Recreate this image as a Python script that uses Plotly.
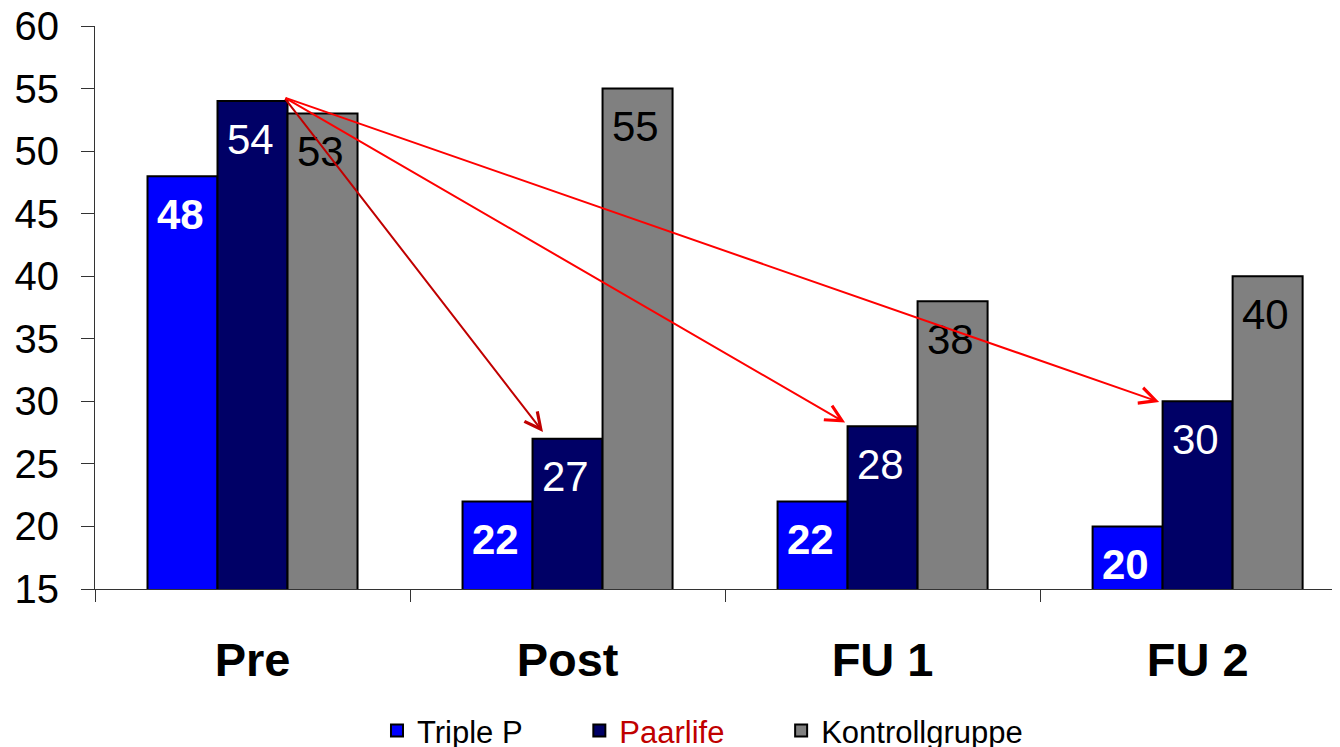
import plotly.graph_objects as go

categories = ["Pre", "Post", "FU 1", "FU 2"]
triple_p = [48, 22, 22, 20]
paarlife = [54, 27, 28, 30]
kontroll = [53, 55, 38, 40]

PAD = "&nbsp;" * 6
series_names = ["Triple P" + PAD,
                "<span style='color:#C00000'>Paarlife</span>" + PAD,
                "Kontrollgruppe"]
series_values = [triple_p, paarlife, kontroll]
series_colors = ["#0000FF", "#000066", "#808080"]
label_colors = ["white", "white", "black"]
label_bold = [True, False, False]

FONT = "Liberation Sans, Arial, sans-serif"

fig = go.Figure()
for name, vals, col in zip(series_names, series_values, series_colors):
    fig.add_trace(go.Bar(
        x=categories, y=vals, name=name,
        marker=dict(color=col, line=dict(color="black", width=2)),
    ))

annotations = []
offsets = [-70, 0, 70]
for vals, lc, bold, off in zip(series_values, label_colors, label_bold, offsets):
    for c, v in zip(categories, vals):
        txt = f"<b>{v}</b>" if bold else str(v)
        annotations.append(dict(
            x=c, y=v, xref="x", yref="y", text=txt, showarrow=False,
            xshift=off - 2, yshift=-38, yanchor="middle",
            font=dict(family=FONT, size=42, color=lc),
        ))

# arrows from Pre Paarlife top to the Paarlife bars of later time points
arrow_start = (0.10, 54.3)
arrow_targets = [(0.922, 27.55), (1.881, 28.3), (2.878, 29.95)]
arrow_colors = ["#C00000", "#FF0000", "#FF0000"]
for (tx, ty), ac in zip(arrow_targets, arrow_colors):
    annotations.append(dict(
        x=tx, y=ty, ax=arrow_start[0], ay=arrow_start[1],
        xref="x", yref="y", axref="x", ayref="y",
        text="", showarrow=True, arrowhead=5, arrowsize=1.6,
        arrowwidth=2, arrowcolor=ac, standoff=0,
    ))

fig.update_layout(
    width=1340, height=747,
    margin=dict(l=87, r=8, t=18, b=166, autoexpand=False),
    paper_bgcolor="white", plot_bgcolor="white",
    barmode="group", bargap=1/3, bargroupgap=0,
    font=dict(family=FONT, color="black"),
    showlegend=True,
    legend=dict(
        orientation="h", x=0.2265, xanchor="left", y=-0.252, yanchor="middle",
        font=dict(family=FONT, size=31, color="black"),
        itemclick=False,
    ),
    annotations=annotations,
)
fig.update_xaxes(
    type="category", range=[-0.5, 3.452], automargin=False,
    showline=True, linecolor="#333333", linewidth=1,
    ticks="outside", tickson="boundaries", ticklen=12, tickcolor="#333333",
    tickfont=dict(family=FONT, size=47, color="black", weight="bold"),
    ticklabelstandoff=30, ticklabeloverflow="allow",
    showgrid=False, zeroline=False,
)
fig.update_yaxes(
    range=[15, 60], tickvals=[15, 20, 25, 30, 35, 40, 45, 50, 55, 60],
    automargin=False,
    showline=True, linecolor="#333333", linewidth=1,
    ticks="outside", ticklen=13, tickcolor="#333333",
    tickfont=dict(family=FONT, size=40, color="black"),
    ticklabelstandoff=14, ticklabeloverflow="allow",
    showgrid=False, zeroline=False,
)

fig.write_html("out.html")
